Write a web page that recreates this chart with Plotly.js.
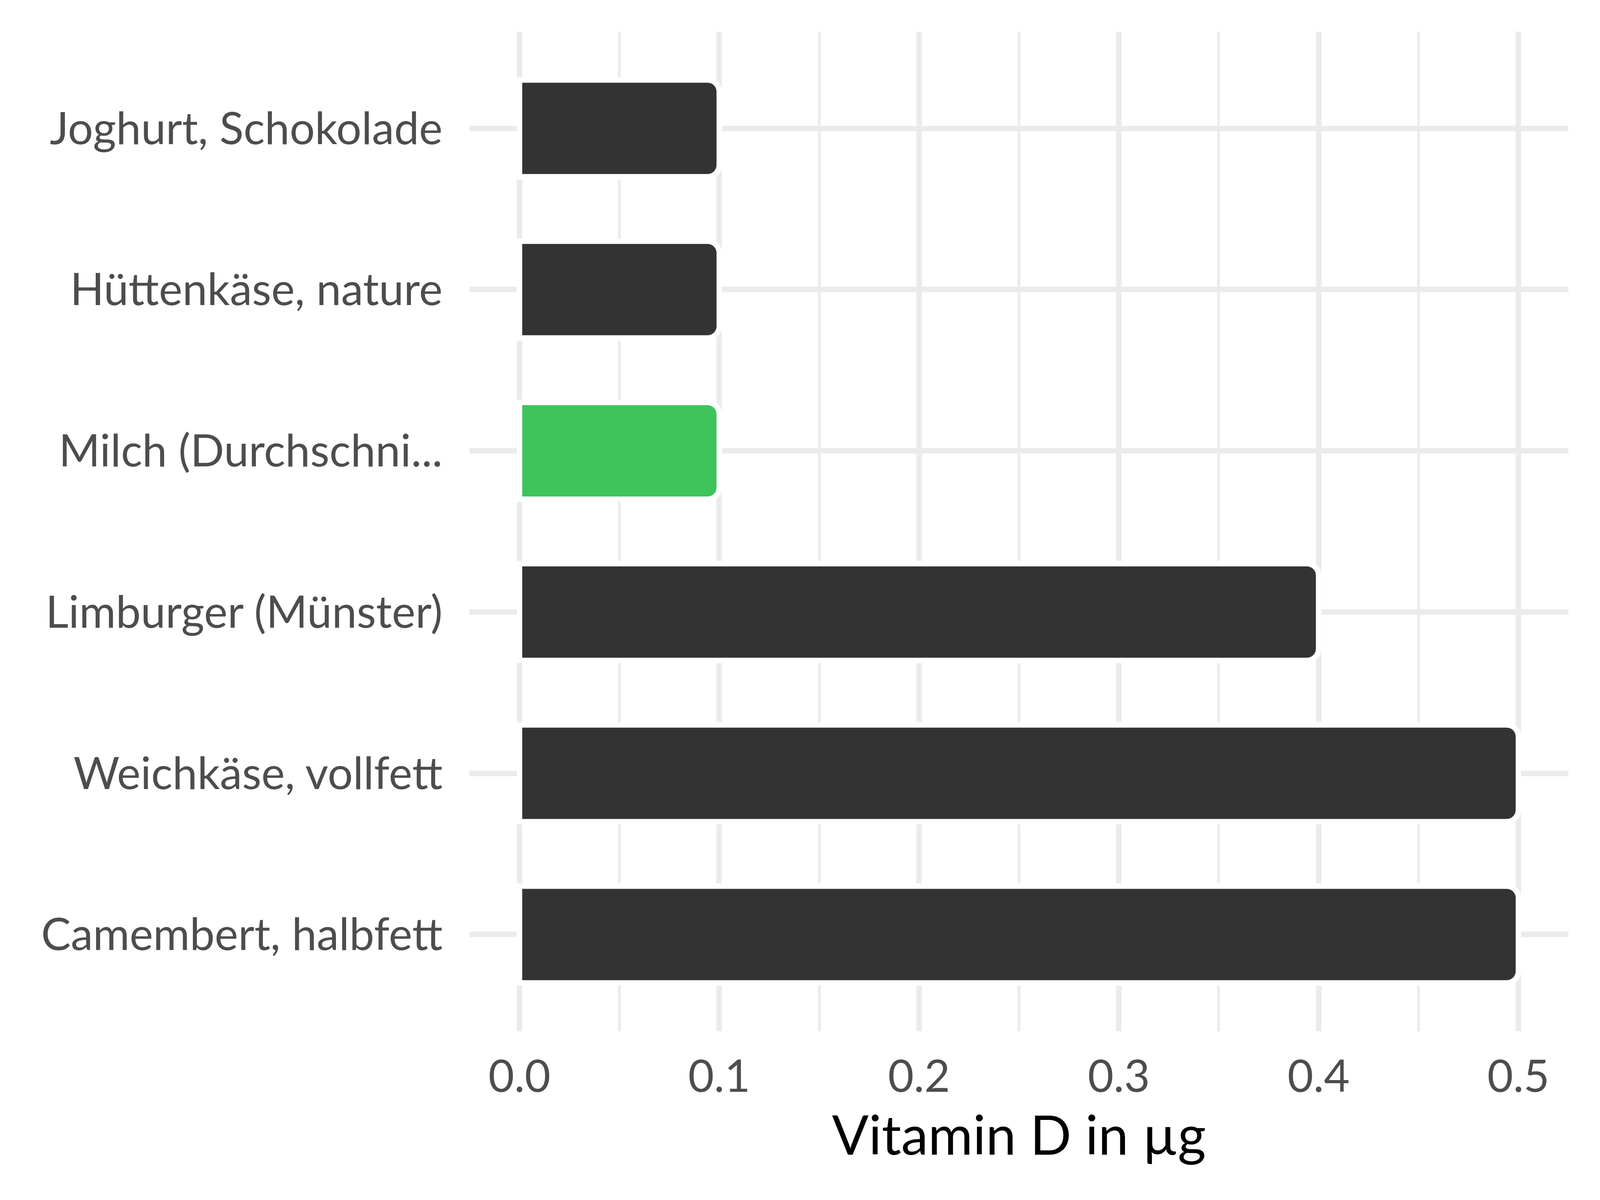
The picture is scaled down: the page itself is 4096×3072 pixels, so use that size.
<!DOCTYPE html>
<html>
<head>
<meta charset="utf-8">
<script src="https://cdn.plot.ly/plotly-3.0.1.min.js"></script>
<style>html,body{margin:0;padding:0;background:#fff;}#chart{width:4096px;height:3072px;}</style>
</head>
<body>
<div id="chart"></div>
<script>
// Data (bottom to top)
const categories = ["Camembert, halbfett", "Weichkäse, vollfett", "Limburger (Münster)", "Milch (Durchschni...", "Hüttenkäse, nature", "Joghurt, Schokolade"];
const values = [0.5, 0.5, 0.4, 0.1, 0.1, 0.1];
const barColors = ["#333333", "#333333", "#333333", "#3EC45A", "#333333", "#333333"];
const xTickValues = [0, 0.1, 0.2, 0.3, 0.4, 0.5];
const xTickLabels = ["0.0", "0.1", "0.2", "0.3", "0.4", "0.5"];
const xTitle = "Vitamin D in µg";

const fontFamily = "Lato, 'Open Sans', sans-serif";

const trace = {
  type: "bar",
  orientation: "h",
  x: values,
  y: categories,
  width: 0.6,
  marker: {
    color: barColors,
    line: {color: "#FFFFFF", width: 14},
    cornerradius: 30
  },
  hoverinfo: "skip"
};

const layout = {
  width: 4096,
  height: 3072,
  paper_bgcolor: "#FFFFFF",
  plot_bgcolor: "#FFFFFF",
  showlegend: false,
  margin: {l: 1202, r: 81, t: 81, b: 432, pad: 0},
  font: {family: fontFamily, color: "#4D4D4D", size: 114},
  xaxis: {
    range: [-0.025, 0.525],
    tickvals: xTickValues,
    ticktext: xTickLabels,
    showgrid: true,
    gridcolor: "#EBEBEB",
    gridwidth: 14,
    zeroline: false,
    showline: false,
    ticks: "",
    ticklabelstandoff: 40,
    tickfont: {family: fontFamily, size: 114, color: "#4D4D4D"},
    minor: {dtick: 0.05, tick0: 0, showgrid: true, gridcolor: "#EBEBEB", gridwidth: 7, ticks: ""},
    title: {text: xTitle, font: {family: fontFamily, size: 139, color: "#000000"}, standoff: 38},
    fixedrange: true
  },
  yaxis: {
    type: "category",
    categoryorder: "array",
    categoryarray: categories,
    range: [-0.6, 5.6],
    showgrid: true,
    gridcolor: "#EBEBEB",
    gridwidth: 14,
    zeroline: false,
    showline: false,
    ticks: "",
    ticklabelstandoff: 68,
    tickfont: {family: fontFamily, size: 114, color: "#4D4D4D"},
    fixedrange: true
  },
  bargap: 0.4
};

Plotly.newPlot("chart", [trace], layout, {displayModeBar: false, staticPlot: true});
</script>
</body>
</html>
